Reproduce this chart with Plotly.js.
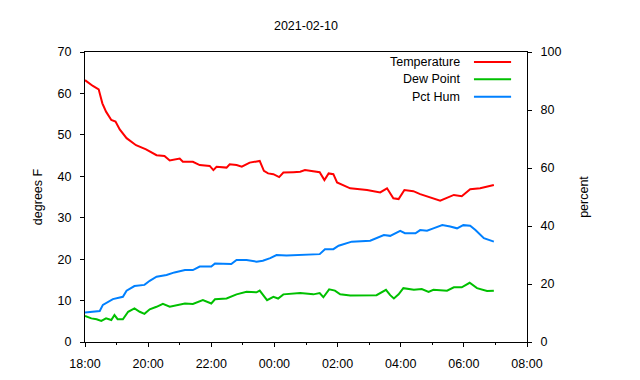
<!DOCTYPE html>
<html>
<head>
<meta charset="utf-8">
<script src="https://cdn.plot.ly/plotly-3.0.1.min.js"></script>
<style>html,body{margin:0;padding:0;background:#fff;}</style>
</head>
<body>
<div id="chart" style="width:640px;height:380px;"></div>
<script>
const chartTitle = "2021-02-10";
const seriesNames = ["Temperature", "Dew Point", "Pct Hum"];
const seriesColors = ["#ff0000", "#00c000", "#0080ff"];

const tempTimes = ["18:00","18:15","18:26","18:33","18:40","18:50","18:58","19:06","19:19","19:37","19:56","20:16","20:31","20:41","21:00","21:06","21:25","21:38","21:57","22:04","22:10","22:29","22:35","22:48","22:58","23:13","23:32","23:40","23:48","23:58","00:09","00:17","00:36","00:49","00:58","01:26","01:35","01:43","01:52","01:59","02:24","02:56","03:21","03:34","03:46","03:56","04:07","04:24","04:37","04:50","05:15","05:41","05:56","06:12","06:31","06:57"];
const tempValues = [63.2,61.8,61.0,57.6,55.6,53.6,53.2,51.3,49.2,47.5,46.5,45.1,44.9,43.8,44.3,43.5,43.5,42.7,42.5,41.5,42.3,42.1,42.9,42.7,42.3,43.3,43.7,41.3,40.7,40.5,39.8,40.9,41.0,41.1,41.5,41.0,39.1,40.7,40.5,38.5,37.1,36.7,36.1,37.1,34.7,34.5,36.7,36.4,35.7,35.1,34.1,35.5,35.2,36.9,37.1,37.9];

const dewTimes = ["18:00","18:12","18:22","18:31","18:40","18:50","18:56","19:02","19:12","19:22","19:34","19:44","19:53","20:03","20:16","20:28","20:41","20:54","21:10","21:25","21:44","22:00","22:07","22:29","22:48","23:07","23:26","23:32","23:46","23:58","00:07","00:17","00:36","00:49","01:14","01:26","01:33","01:44","01:55","02:05","02:24","02:49","03:14","03:32","03:40","03:47","03:56","04:05","04:25","04:40","04:53","05:02","05:28","05:41","05:56","06:11","06:25","06:44","06:57"];
const dewValues = [6.3,5.7,5.5,5.1,5.7,5.3,6.5,5.5,5.5,7.3,8.1,7.3,6.8,7.9,8.5,9.2,8.5,8.9,9.3,9.2,10.1,9.3,10.3,10.5,11.5,12.1,12.0,12.4,10.1,10.9,10.5,11.5,11.6,11.8,11.5,11.8,10.8,12.7,12.4,11.5,11.2,11.3,11.3,12.6,11.3,10.5,11.5,13.0,12.6,12.8,12.1,12.6,12.4,13.2,13.2,14.3,13.0,12.3,12.4];

const humTimes = ["18:00","18:28","18:34","18:53","19:12","19:19","19:34","19:53","20:03","20:16","20:35","20:50","21:10","21:25","21:38","22:00","22:07","22:22","22:38","22:48","23:07","23:26","23:38","23:52","00:04","00:23","00:42","01:26","01:36","01:52","02:02","02:14","02:27","03:02","03:14","03:28","03:40","03:59","04:08","04:28","04:37","04:50","05:02","05:19","05:34","05:47","05:59","06:12","06:22","06:38","06:57"];
const humValues = [10.2,10.7,12.8,14.8,15.6,17.7,19.3,19.7,21.1,22.5,23.1,24.0,24.8,24.8,26.0,26.0,27.1,27.1,26.9,28.3,28.3,27.7,28.0,28.9,30.0,29.8,30.0,30.3,32.0,32.0,33.2,33.8,34.6,34.9,35.8,36.9,36.6,38.3,37.5,37.5,38.6,38.4,39.2,40.3,39.8,39.2,40.3,40.1,38.6,35.8,34.6];

function toDate(t) {
  const hh = parseInt(t.slice(0, 2), 10);
  return (hh >= 18 ? "2021-02-10 " : "2021-02-11 ") + t;
}

const font = {family: "Liberation Sans, Arial, sans-serif", size: 12.5, color: "#000"};

const traces = [
  {x: tempTimes.map(toDate), y: tempValues, name: seriesNames[0], type: "scatter", mode: "lines",
   line: {color: seriesColors[0], width: 2}, yaxis: "y"},
  {x: dewTimes.map(toDate), y: dewValues, name: seriesNames[1], type: "scatter", mode: "lines",
   line: {color: seriesColors[1], width: 2}, yaxis: "y"},
  {x: humTimes.map(toDate), y: humValues, name: seriesNames[2], type: "scatter", mode: "lines",
   line: {color: seriesColors[2], width: 2}, yaxis: "y2"}
];

const legendY = [0.9655, 0.906, 0.846];
const annotations = seriesNames.map((n, i) => ({
  xref: "paper", yref: "paper", x: 0.853, y: legendY[i], xanchor: "right", yanchor: "middle",
  text: n, showarrow: false, font: font
}));
const shapes = seriesNames.map((n, i) => ({
  type: "line", xref: "paper", yref: "paper", x0: 0.880, x1: 0.964, y0: legendY[i], y1: legendY[i],
  line: {color: seriesColors[i], width: 2}
}));

const layout = {
  width: 640, height: 380,
  margin: {l: 85, r: 113, t: 52, b: 38},
  paper_bgcolor: "#fff", plot_bgcolor: "#fff",
  font: font,
  showlegend: false,
  title: {text: chartTitle, font: font, x: 0.478, xanchor: "center", y: 0.932, yanchor: "middle"},
  xaxis: {
    type: "date",
    range: ["2021-02-10 18:00", "2021-02-11 08:00"],
    dtick: 7200000, tickformat: "%H:%M",
    showgrid: false, zeroline: false,
    showline: true, mirror: true, linecolor: "#000", linewidth: 1,
    ticks: "outside", ticklen: 4, tickcolor: "#000", ticklabelstandoff: 6,
    minor: {dtick: 3600000, ticks: "outside", ticklen: 2, tickcolor: "#000", showgrid: false},
    tickfont: font
  },
  yaxis: {
    range: [0, 70], dtick: 10,
    showgrid: false, zeroline: false,
    showline: true, linecolor: "#000", linewidth: 1,
    ticks: "outside", ticklen: 4, tickcolor: "#000", ticklabelstandoff: 6,
    tickfont: font,
    title: {text: "degrees F", font: font, standoff: 12}
  },
  yaxis2: {
    overlaying: "y", side: "right",
    range: [0, 100], dtick: 20,
    showgrid: false, zeroline: false,
    showline: true, linecolor: "#000", linewidth: 1,
    ticks: "outside", ticklen: 4, tickcolor: "#000", ticklabelstandoff: 6,
    tickfont: font,
    title: {text: "percent", font: font, standoff: 18}
  },
  annotations: annotations,
  shapes: shapes
};

Plotly.newPlot("chart", traces, layout, {staticPlot: true, displayModeBar: false});
</script>
</body>
</html>
